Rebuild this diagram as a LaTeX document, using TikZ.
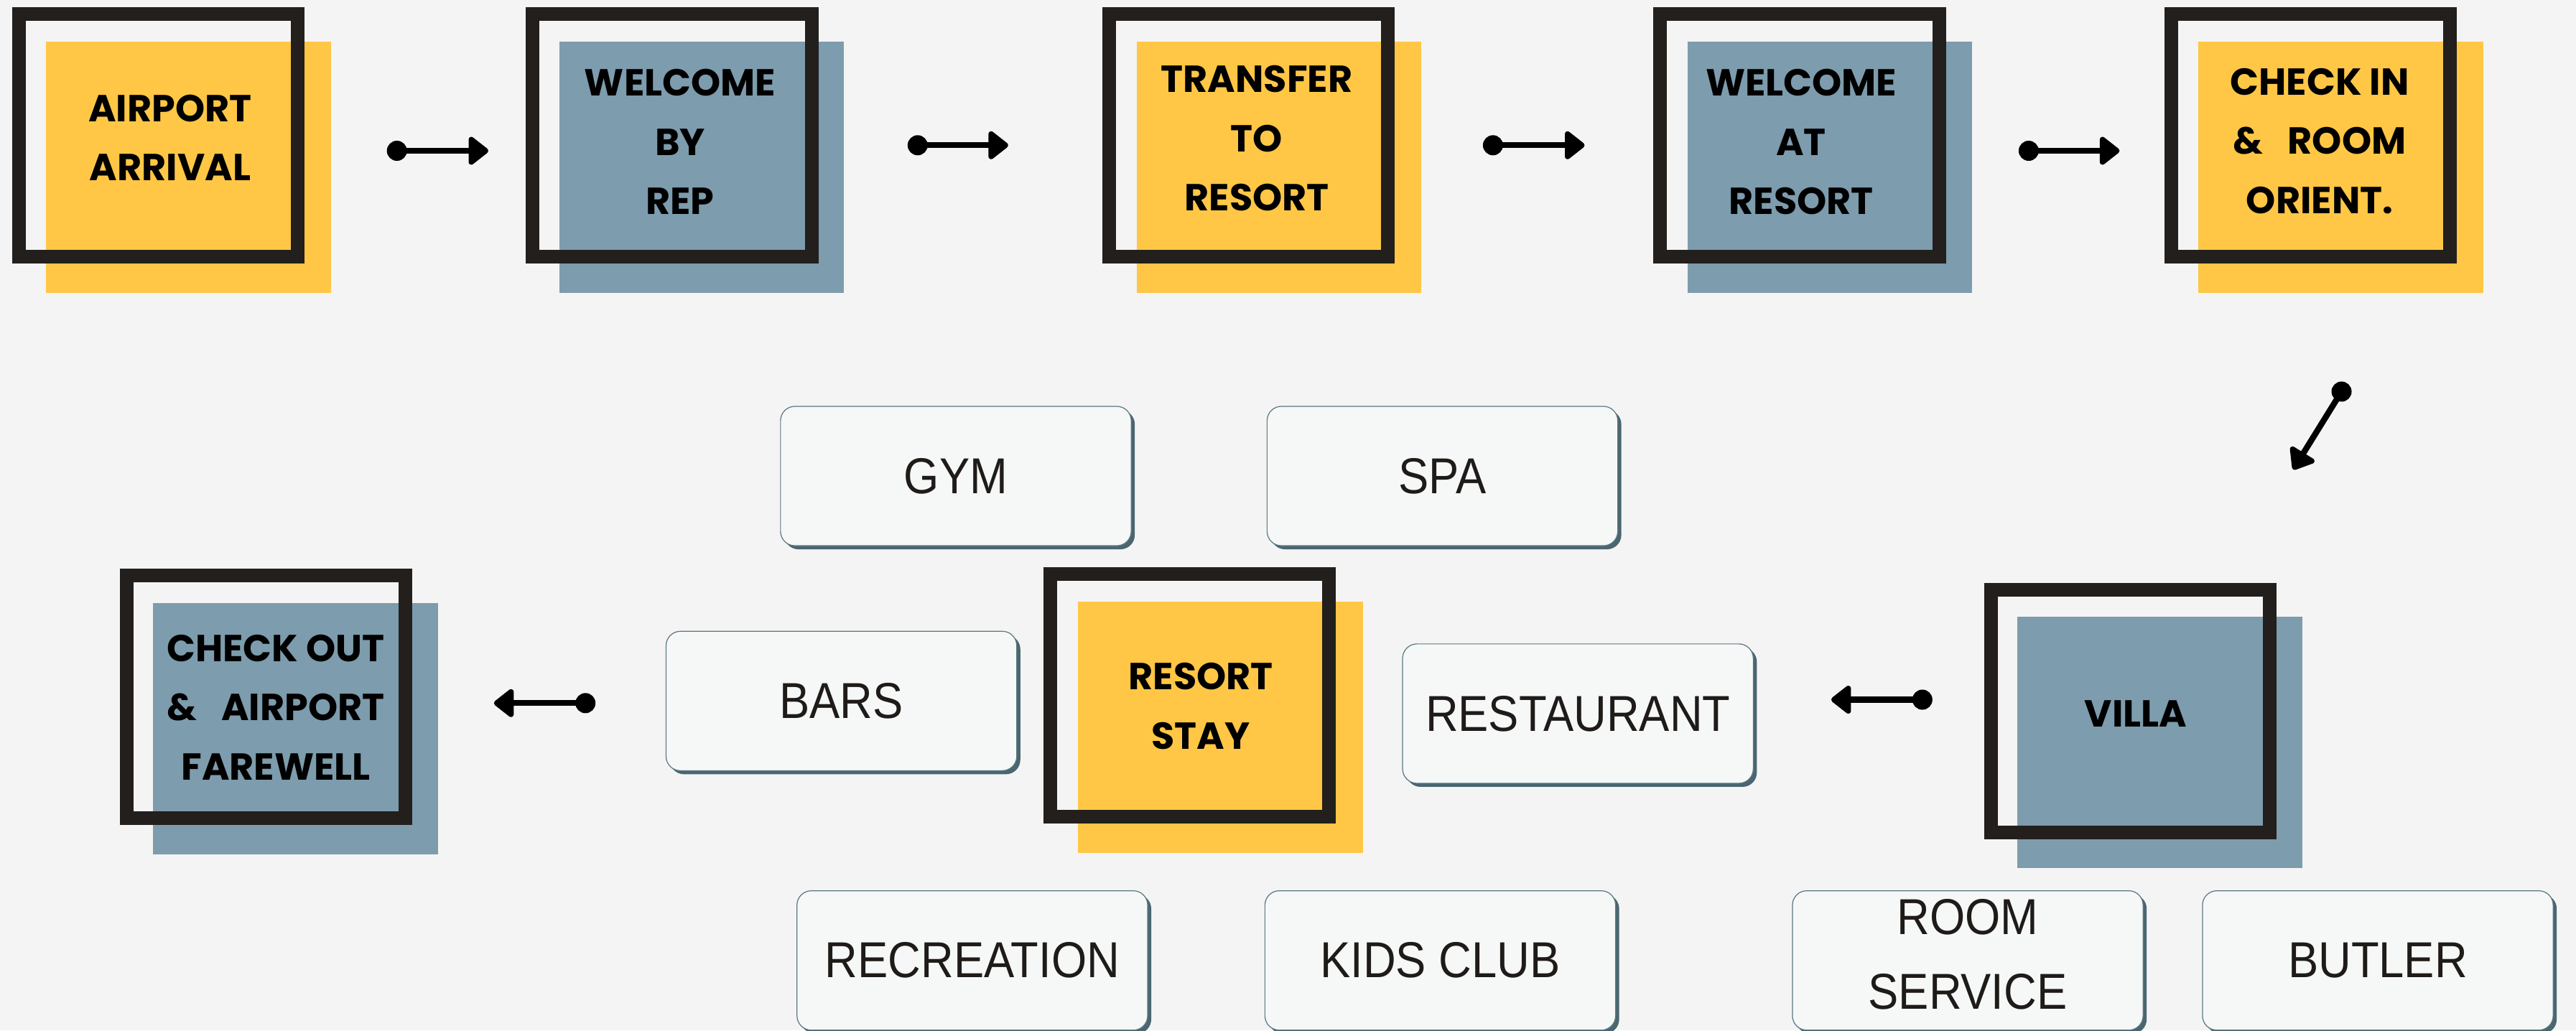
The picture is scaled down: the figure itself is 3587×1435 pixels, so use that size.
\documentclass[tikz,border=0pt]{standalone}
\usepackage{fontspec}
\newfontfamily\stepfont{Poppins}
\newfontfamily\optfont[FakeStretch=0.9]{Liberation Sans}
\usetikzlibrary{arrows.meta,shadows}
\definecolor{bgcol}{HTML}{F4F4F4}
\definecolor{yel}{HTML}{FFC745}
\definecolor{slate}{HTML}{7D9CAD}
\definecolor{framecol}{HTML}{221F1C}
\definecolor{optfill}{HTML}{F6F8F8}
\definecolor{optborder}{HTML}{5C7883}
\definecolor{optshadow}{HTML}{4A6670}
\definecolor{opttext}{HTML}{1E1B18}
\tikzset{
  stepfill/.style={fill=#1, draw=none, minimum width=3.965cm, minimum height=3.497cm, inner sep=0pt, outer sep=0pt},
  stepframe/.style={draw=framecol, line width=0.19cm, minimum width=3.88cm, minimum height=3.377cm, inner sep=0pt, outer sep=0pt},
  steplabel/.style={font=\stepfont\bfseries\fontsize{14.9}{23.47}\selectfont, align=center, anchor=north, inner sep=0pt, text=black},
  optbox/.style={draw=optborder, line width=0.35pt, fill=optfill, rounded corners=0.2cm,
    minimum width=4.88cm, minimum height=1.94cm, inner sep=0pt,
    font=\optfont\fontsize{20}{29.7}\selectfont, text=opttext, align=center,
    drop shadow={shadow xshift=0.05cm, shadow yshift=-0.05cm, fill=optshadow, opacity=1}},
  conn/.style={line width=0.083cm, -{Triangle[length=0.3cm, width=0.447cm, round]}},
  dotstyle/.style={fill=black},
}
\begin{document}
\begin{tikzpicture}[x=0.01cm, y=-0.01cm]
\useasboundingbox (0,0) rectangle (3587,1435);
\fill[bgcol] (0,0) rectangle (3587,1435);

% option boxes
\node[optbox] (gym) at (1331,663) {GYM};
\node[optbox] (spa) at (2008.5,663) {SPA};
\node[optbox] (bars) at (1171.6,976.3) {BARS};
\node[optbox] (rest) at (2197.2,993.9) {RESTAURANT};
\node[optbox] (recr) at (1353.9,1337.7) {RECREATION};
\node[optbox] (kids) at (2005.5,1337.7) {KIDS CLUB};
\node[optbox, text depth=0.18cm] (room) at (2740,1337.7) {ROOM\\SERVICE};
\node[optbox] (butl) at (3311,1337.7) {BUTLER};

% top row steps
\node[stepfill=yel] (f1) at (262.6,232.9) {};
\node[stepframe] (b1) at (220.7,188.4) {};
\node[steplabel] (t1) at (237,131) {AIRPORT\\ARRIVAL};

\node[stepfill=slate] (f2) at (976.9,232.9) {};
\node[stepframe] (b2) at (935.9,188.4) {};
\node[steplabel] (t2) at (947,95.7) {WELCOME\\BY\\REP};

\node[stepfill=yel] (f3) at (1781.1,232.9) {};
\node[stepframe] (b3) at (1738.4,188.4) {};
\node[steplabel] (t3) at (1750,90.7) {TRANSFER\\TO\\RESORT};

\node[stepfill=slate] (f4) at (2548,232.9) {};
\node[stepframe] (b4) at (2506,188.4) {};
\node[steplabel] (t4) at (2508,95.7) {WELCOME\\AT\\RESORT};

\node[stepfill=yel] (f5) at (3259.1,232.9) {};
\node[stepframe] (b5) at (3217.6,188.4) {};
\node[steplabel] (t5) at (3230,94.3) {CHECK IN\\\&\hspace{0.65em}ROOM\\ORIENT.};

% bottom row steps
\node[stepfill=slate] (f6) at (411.6,1014.9) {};
\node[stepframe] (b6) at (370.4,970.5) {};
\node[steplabel] (t6) at (384,883.3) {CHECK OUT\\\&\hspace{0.65em}AIRPORT\\FAREWELL};

\node[stepfill=yel] (f7) at (1699.2,1012.9) {};
\node[stepframe] (b7) at (1656.6,968.9) {};
\node[steplabel] (t7) at (1672,922.7) {RESORT\\STAY};

\node[stepfill=slate] (f8) at (3007.8,1033.6) {};
\node[stepframe] (b8) at (2966.2,990.3) {};
\node[steplabel] (t8) at (2974,975) {VILLA};

% connectors
\coordinate (a1s) at (552.7,210);   \coordinate (a1e) at (680,210);
\coordinate (a2s) at (1277.8,202.3); \coordinate (a2e) at (1403.9,202.3);
\coordinate (a3s) at (2078.9,202.3); \coordinate (a3e) at (2206.5,202.3);
\coordinate (a4s) at (2824.9,210);  \coordinate (a4e) at (2951.4,210);
\coordinate (a5s) at (3260.5,545.4); \coordinate (a5e) at (3193.2,654);
\coordinate (a6s) at (2676.8,974.5); \coordinate (a6e) at (2549.9,974.5);
\coordinate (a7s) at (815.2,979.3);  \coordinate (a7e) at (687.8,979.3);
\foreach \a in {a1,a2,a3,a4,a5,a6,a7}{
  \draw[conn] (\a s) -- (\a e);
  \fill[dotstyle] (\a s) circle (0.14cm);
}
\end{tikzpicture}
\end{document}
